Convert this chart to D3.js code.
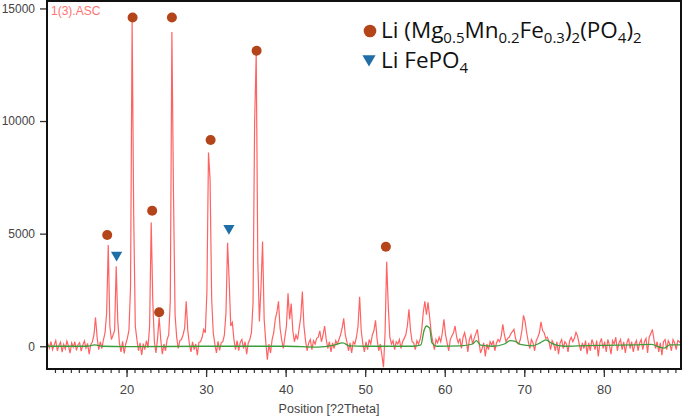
<!DOCTYPE html>
<html>
<head>
<meta charset="utf-8">
<script src="https://cdn.jsdelivr.net/npm/d3@7"></script>
<style>
  body { margin: 0; background: #fff; }
  svg { display: block; }
</style>
</head>
<body>
<div id="chart"></div>
<script>
var xStart = 10.1;
var xStep = 0.2;
var intensity = [
  120, -80, 210, -150, 60, 250, -200, 40, 180, -260,
  90, -120, 230, 10, -310, 150, -40, 200, -180, 70,
  160, -220, 50, 240, -90, 130, -350, 80, 190, 500,
  1280, 400, -150, 200, -100, 300, 600, 1500, 4500, 900,
  300, 500, 700, 3550, 1100, 150, -250, 220, -320, 100,
  350, 700, 2600, 14400, 5800, 900, 300, -200, 150, -380,
  120, -150, 250, -60, 900, 5500, 2000, 200, -300, 350,
  1280, 300, -350, 100, -200, 300, 500, 2000, 13950, 6800,
  1400, 400, -100, 250, 300, 500, 800, 2000, 700, 100,
  -250, 200, -150, 100, -400, 180, 200, 400, 750, 600,
  2400, 8600, 7400, 2100, 600, 100, -300, 220, -180, 150,
  200, 500, 1500, 4600, 2900, 900, 1050, 300, -150, 250,
  -200, 180, 300, -100, 200, -350, 150, 300, 600, 1900,
  9900, 13000, 3800, 1100, 2600, 4650, 1200, 200, -600, 100,
  -300, 300, 600, 1200, 1500, 2000, 800, 300, -100, 400,
  900, 2350, 1200, 1900, 700, 200, 500, 300, 800, 1300,
  2430, 900, 250, -200, 150, 300, -150, 250, 100, 350,
  400, 680, 200, 500, 900, 300, -100, 200, -250, 150,
  -100, 250, 100, 300, 500, 800, 1240, 500, 200, -200,
  150, -300, 200, 100, 400, 900, 2200, 700, 100, -250,
  200, -150, 300, 100, 500, 700, 1150, 300, -200, 100,
  -400, -930, 600, 3750, 1800, 400, 100, 250, -150, 200,
  100, 300, -100, 200, 350, 500, 900, 1640, 700, 200,
  150, -150, 250, 100, 300, 700, 1500, 2000, 1400, 1950,
  1300, 600, 200, -150, 300, 150, 400, 200, 600, 1200,
  500, 150, -200, 300, 450, 600, 900, 400, 150, 350,
  -100, 400, 600, 250, -250, 300, 500, 100, 350, 550,
  750, 200, -300, -100, 150, -450, 100, -150, 200, 50,
  250, -200, 150, 300, 200, 450, 970, 500, 200, 350,
  400, 550, 650, 750, 350, 150, 100, 300, 700, 1370,
  1100, 600, 200, -100, 300, 150, -200, 250, 400, 600,
  1080, 700, 600, 350, 400, 200, -150, 250, 100, -200,
  200, -350, 150, 300, -100, 200, 100, -250, 250, 400,
  200, 350, 620, 450, 100, -200, 150, -100, 250, -350,
  150, -200, 300, 100, -150, 250, -450, 150, 350, -100,
  200, -250, 300, 50, -350, 250, 100, 400, -200, 150,
  300, -150, 200, -300, 150, 350, -100, 200, -250, 100,
  250, -200, 150, 300, -150, 200, 350, -300, 400, 550,
  750, 300, -100, 200, -250, 150, -400, 200, 300, -150,
  250, 100, -200, 300, 150, -150, 250, 200, 100
];

// Linha de fundo (verde)
var fundoX = [10, 15, 16, 17, 20, 30, 40, 44, 46, 47.2, 48, 50, 56, 57.0, 57.4, 57.7, 58.1, 58.4, 59,
  62, 63.5, 64, 64.5, 66, 67.5, 68.2, 68.8, 69.5, 71, 72.0, 72.7, 73.5, 75, 78, 80, 84, 86, 87, 87.6, 88.3, 89.7];
var fundoY = [0, 0, 60, 0, -20, 0, 0, -40, 40, 150, 20, 0, 0, 60, 700, 900, 800, 150, 0,
  20, 100, 250, 50, 0, 100, 250, 230, 80, 20, 150, 280, 120, 0, 30, 40, 60, 80, -40, -80, 60, 60];

// Marcadores das fases
var faseA = "Li (Mg0.5Mn0.2Fe0.3)2(PO4)2";
var faseAX = [17.57, 20.76, 23.22, 24.1, 25.7, 30.57, 36.35, 52.6];
var faseAY = [4940, 14600, 6020, 1510, 14600, 9160, 13120, 4420];
var faseB = "Li FePO4";
var faseBX = [18.75, 32.87];
var faseBY = [4050, 5240];

var yTicks = [0, 5000, 10000, 15000];
var xTicks = [20, 30, 40, 50, 60, 70, 80];

var width = 685, height = 418;
var mLeft = 47, mRight = 681, mTop = 1, mBottom = 369;

var x = d3.scaleLinear().domain([10, 89.7]).range([mLeft, mRight]);
var y = d3.scaleLinear().domain([-1010, 15330]).range([mBottom, mTop]);

var svg = d3.select("#chart")
    .append("svg")
    .attr("width", width)
    .attr("height", height)
    .style("font-family", "Liberation Sans, Arial, sans-serif");

svg.append("clipPath").attr("id", "area")
    .append("rect")
    .attr("x", mLeft).attr("y", mTop)
    .attr("width", mRight - mLeft).attr("height", mBottom - mTop);

var pontos = intensity.map((v, i) => ({ t: xStart + i * xStep, v: v }));

var plot = svg.append("g").attr("clip-path", "url(#area)");

plot.append("path")
    .datum(pontos)
    .attr("fill", "none")
    .attr("stroke", "#ff3b3b")
    .attr("stroke-opacity", 0.8)
    .attr("stroke-width", 1.2)
    .attr("d", d3.line().x(d => x(d.t)).y(d => y(d.v)));

plot.append("path")
    .datum(fundoX.map((t, i) => ({ t: t, v: fundoY[i] })))
    .attr("fill", "none")
    .attr("stroke", "#3a9e3a")
    .attr("stroke-width", 1.3)
    .attr("d", d3.line().curve(d3.curveMonotoneX).x(d => x(d.t)).y(d => y(d.v)));

// marcadores
var corA = "#b4441a", corB = "#1f6ea8";
svg.append("g").selectAll("circle")
    .data(faseAX)
    .enter()
    .append("circle")
    .attr("cx", d => x(d))
    .attr("cy", (d, i) => y(faseAY[i]))
    .attr("r", 5)
    .attr("fill", corA);

var tri = d3.symbol().type(d3.symbolTriangle).size(55);
svg.append("g").selectAll("path")
    .data(faseBX)
    .enter()
    .append("path")
    .attr("d", tri)
    .attr("transform", (d, i) => "translate(" + x(d) + "," + y(faseBY[i]) + ") rotate(180)")
    .attr("fill", corB);

// eixos
var yAxis = svg.append("g")
    .attr("transform", "translate(" + mLeft + ",0)")
    .call(d3.axisLeft(y).tickValues(yTicks).tickSize(7).tickSizeOuter(0).tickFormat(d3.format("d")));
yAxis.select(".domain").remove();
yAxis.selectAll("line").attr("stroke", "#333").attr("stroke-width", 1.3);
yAxis.selectAll("text").attr("fill", "#444").attr("font-size", 12).attr("dx", -2);

var xMinor = svg.append("g")
    .attr("transform", "translate(0," + mBottom + ")")
    .call(d3.axisBottom(x).tickValues(d3.range(11, 90)).tickSize(4).tickFormat(""));
xMinor.select(".domain").remove();
xMinor.selectAll("line").attr("stroke", "#333").attr("stroke-width", 1.2);

var xAxis = svg.append("g")
    .attr("transform", "translate(0," + mBottom + ")")
    .call(d3.axisBottom(x).tickValues(xTicks).tickSize(8).tickSizeOuter(0));
xAxis.select(".domain").remove();
xAxis.selectAll("line").attr("stroke", "#333").attr("stroke-width", 1.3);
xAxis.selectAll("text").attr("fill", "#444").attr("font-size", 13).attr("dy", "1.05em");

svg.append("rect")
    .attr("x", mLeft).attr("y", mTop)
    .attr("width", mRight - mLeft).attr("height", mBottom - mTop)
    .attr("fill", "none")
    .attr("stroke", "#111")
    .attr("stroke-width", 2);

svg.append("text")
    .attr("x", 329).attr("y", 413)
    .attr("text-anchor", "middle")
    .attr("font-size", 12.5)
    .attr("fill", "#444")
    .text("Position [?2Theta]");

svg.append("text")
    .attr("x", 51).attr("y", 15)
    .attr("font-size", 12)
    .attr("fill", "#ff7373")
    .text("1(3).ASC");

// legenda com subscritos
var leg = svg.append("g").style("font-family", "Open Sans, Noto Sans, sans-serif");
leg.append("circle").attr("cx", 370).attr("cy", 31).attr("r", 6.3).attr("fill", corA);
leg.append("path").attr("d", d3.symbol().type(d3.symbolTriangle).size(75))
    .attr("transform", "translate(369,59) rotate(180)").attr("fill", corB);

function formula(txt, xp, yp) {
    var t = leg.append("text").attr("x", xp).attr("y", yp).attr("font-size", 22.5).attr("fill", "#111");
    var partes = txt.match(/(\d+(\.\d+)?|[^\d]+)/g);
    var atual = 0;
    partes.forEach(p => {
        var alvo = /^\d/.test(p) ? 5 : 0;
        t.append("tspan")
            .attr("font-size", alvo ? 15 : 22.5)
            .attr("dy", alvo - atual)
            .text(p);
        atual = alvo;
    });
}
formula(faseA, 381, 38);
formula(faseB, 381, 68);
</script>
</body>
</html>
